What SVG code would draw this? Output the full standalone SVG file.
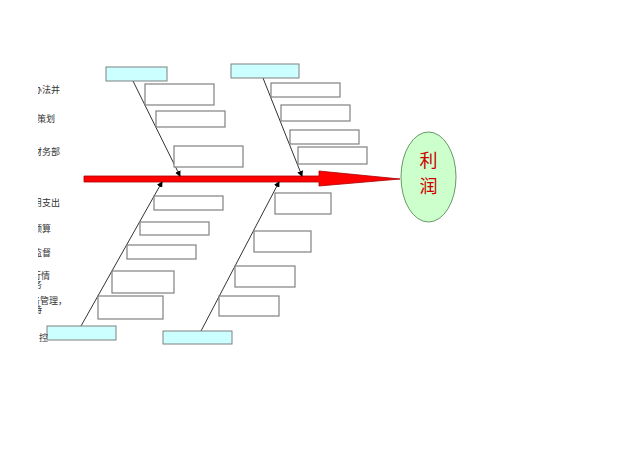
<svg xmlns="http://www.w3.org/2000/svg" width="640" height="453" viewBox="0 0 640 453">
<style>
.cat{fill:#ccffff;stroke:#808080;stroke-width:1}
.box{fill:#ffffff;stroke:#808080;stroke-width:1.2}
.bone{stroke:#333333;stroke-width:1;fill:none;marker-end:url(#ah)}
.lbl{font-family:"Liberation Sans","Noto Sans CJK SC",sans-serif;font-size:9px;fill:#333333;text-anchor:end}
.big{font-family:"Noto Sans CJK SC","Liberation Serif",serif;font-size:18px;fill:#cc0000;text-anchor:middle}
</style>
<defs>
<marker id="ah" markerWidth="6" markerHeight="6" refX="5" refY="3" orient="auto" markerUnits="userSpaceOnUse">
<path d="M0,0 L6,3 L0,6 Z" fill="#000000"/>
</marker>
<clipPath id="cl"><rect x="38" y="0" width="100" height="453"/></clipPath>
</defs>
<rect width="640" height="453" fill="#ffffff"/>
<g id="spine">
<path d="M84,176 L319,176 L319,171 L400,179 L319,186 L319,182 L84,182 Z" fill="#ff0000" stroke="#aa0000" stroke-width="0.8"/>
</g>
<g id="connectors">
<line class="bone" x1="133" y1="81" x2="180" y2="176"/>
<line class="bone" x1="263" y1="78" x2="302" y2="176"/>
<line class="bone" x1="81" y1="326" x2="162" y2="182"/>
<line class="bone" x1="201" y1="331" x2="279" y2="182"/>
</g>
<g id="result">
<ellipse cx="428.5" cy="177" rx="27.5" ry="45" fill="#ccffcc" stroke="#669966" stroke-width="1"/>
<text class="big" x="428.5" y="167">利</text>
<text class="big" x="428.5" y="193">润</text>
</g>
<g id="cat-top-left"><rect class="cat" x="106" y="67" width="61" height="14"/></g>
<g id="cat-top-right"><rect class="cat" x="231" y="64" width="68" height="14"/></g>
<g id="cat-bottom-left"><rect class="cat" x="47" y="326" width="69" height="14"/></g>
<g id="cat-bottom-right"><rect class="cat" x="163" y="331" width="69" height="13"/></g>
<g id="boxes-top-left">
<rect class="box" x="145" y="84" width="69" height="21"/>
<rect class="box" x="156" y="111" width="69" height="16"/>
<rect class="box" x="174" y="146" width="69" height="21"/>
</g>
<g id="boxes-top-right">
<rect class="box" x="271" y="83" width="69" height="14"/>
<rect class="box" x="281" y="105" width="69" height="16"/>
<rect class="box" x="290" y="130" width="69" height="14"/>
<rect class="box" x="298" y="147" width="69" height="17"/>
</g>
<g id="boxes-bottom-left">
<rect class="box" x="154" y="196" width="69" height="14"/>
<rect class="box" x="140" y="222" width="69" height="13"/>
<rect class="box" x="127" y="245" width="69" height="14"/>
<rect class="box" x="112" y="271" width="62" height="22"/>
<rect class="box" x="98" y="296" width="65" height="23"/>
</g>
<g id="boxes-bottom-right">
<rect class="box" x="275" y="193" width="56" height="21"/>
<rect class="box" x="254" y="231" width="57" height="21"/>
<rect class="box" x="235" y="266" width="60" height="21"/>
<rect class="box" x="219" y="296" width="60" height="20"/>
</g>
<g id="side-labels" clip-path="url(#cl)">
<text class="lbl" x="60" y="93">办法并</text>
<text class="lbl" x="55" y="122">营销策划</text>
<text class="lbl" x="60" y="155">财务部</text>
<text class="lbl" x="60" y="206">费用支出</text>
<text class="lbl" x="51" y="232">预算</text>
<text class="lbl" x="51" y="256">监督</text>
<text class="lbl" x="50" y="279">进行情</text>
<text class="lbl" x="42" y="288">务</text>
<text class="lbl" x="67" y="304">务管理，</text>
<text class="lbl" x="42" y="313">持</text>
<text class="lbl" x="48" y="341">控</text>
</g>
</svg>
